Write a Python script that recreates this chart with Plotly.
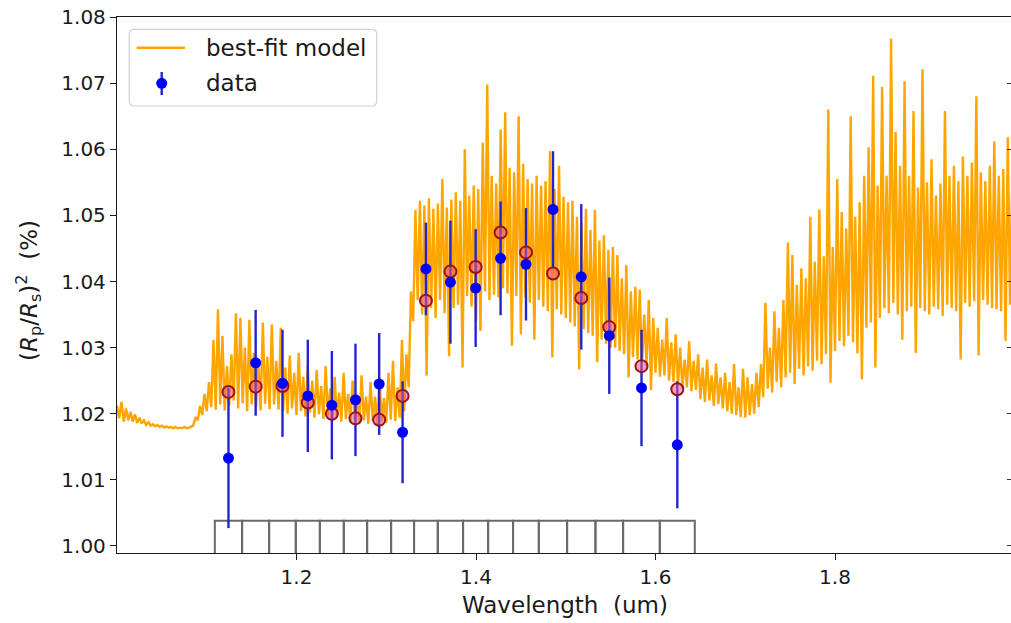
import numpy as np
import plotly.graph_objects as go

# ---------------------------------------------------------------- binned data
bin_edges = [1.1090, 1.1394, 1.1695, 1.1992, 1.2260, 1.2527, 1.2787, 1.3054,
             1.3310, 1.3574, 1.3856, 1.4135, 1.4413, 1.4700, 1.5015, 1.5331,
             1.5639, 1.6048, 1.6438]
bin_centers = [1.1242, 1.1545, 1.1844, 1.2126, 1.2394, 1.2657, 1.2921, 1.3182,
               1.3442, 1.3715, 1.3996, 1.4274, 1.4557, 1.4858, 1.5173, 1.5485,
               1.5844, 1.6243]
data_depth = [1.0133, 1.0277, 1.0246, 1.0227, 1.0213, 1.0221, 1.0245, 1.0172,
              1.0419, 1.0399, 1.0390, 1.0435, 1.0426, 1.0509, 1.0407, 1.0318,
              1.0239, 1.0153]
data_err = [0.0106, 0.0080, 0.0081, 0.0085, 0.0082, 0.0085, 0.0077, 0.0077,
            0.0070, 0.0093, 0.0089, 0.0086, 0.0085, 0.0088, 0.0110, 0.0088,
            0.0088, 0.0096]
model_binned = [1.0233, 1.0241, 1.0242, 1.0217, 1.0200, 1.0193, 1.0191, 1.0227,
                1.0371, 1.0415, 1.0422, 1.0474, 1.0444, 1.0412, 1.0375, 1.0331,
                1.0272, 1.0237]
bin_box_bottom = 0.9980
bin_box_top = 1.0038

# ------------------------------------------- best-fit model, 2.5 nm sampling
model_start = 1.0
model_step = 0.0025
model_depth = [
    # 1.000 - 1.0825 um
    1.0212, 1.0193, 1.0218, 1.0188, 1.0208, 1.0190, 1.0203, 1.0188, 1.0199, 1.0186,
    1.0194, 1.0185, 1.0190, 1.0183, 1.0187, 1.0182, 1.0184, 1.0181, 1.0183, 1.0180,
    1.0182, 1.0179, 1.0181, 1.0179, 1.0180, 1.0178, 1.0180, 1.0178, 1.0179, 1.0178,
    1.0180, 1.0178, 1.0179, 1.0180,
    # 1.085 - 1.3275 um
    1.0182, 1.0195, 1.0190, 1.0212, 1.0198, 1.0230, 1.0204, 1.0248, 1.0210, 1.0312,
    1.0206, 1.0358, 1.0214, 1.0318, 1.0205, 1.0272, 1.0212, 1.0290, 1.0220, 1.0352,
    1.0208, 1.0345, 1.0216, 1.0300, 1.0204, 1.0342, 1.0214, 1.0292, 1.0210, 1.0276,
    1.0205, 1.0338, 1.0215, 1.0286, 1.0207, 1.0335, 1.0214, 1.0280, 1.0206, 1.0330,
    1.0204, 1.0270, 1.0200, 1.0288, 1.0208, 1.0262, 1.0198, 1.0292, 1.0204, 1.0256,
    1.0196, 1.0272, 1.0202, 1.0250, 1.0194, 1.0266, 1.0199, 1.0242, 1.0192, 1.0272,
    1.0196, 1.0238, 1.0189, 1.0256, 1.0194, 1.0232, 1.0188, 1.0262, 1.0192, 1.0230,
    1.0187, 1.0250, 1.0191, 1.0228, 1.0185, 1.0258, 1.0190, 1.0226, 1.0185, 1.0248,
    1.0189, 1.0226, 1.0184, 1.0255, 1.0188, 1.0224, 1.0186, 1.0262, 1.0191, 1.0280,
    1.0189, 1.0240, 1.0194, 1.0312, 1.0204, 1.0290, 1.0240, 1.0385,
    # 1.330 - 1.5975 um
    1.0340, 1.0508, 1.0372, 1.0522, 1.0350, 1.0515, 1.0258, 1.0526, 1.0360, 1.0510,
    1.0345, 1.0518, 1.0372, 1.0555, 1.0352, 1.0512, 1.0287, 1.0524, 1.0360, 1.0535,
    1.0365, 1.0522, 1.0270, 1.0600, 1.0378, 1.0530, 1.0362, 1.0545, 1.0340, 1.0540,
    1.0325, 1.0610, 1.0385, 1.0698, 1.0372, 1.0560, 1.0380, 1.0548, 1.0376, 1.0630,
    1.0390, 1.0656, 1.0382, 1.0572, 1.0303, 1.0565, 1.0378, 1.0650, 1.0320, 1.0578,
    1.0376, 1.0555, 1.0368, 1.0548, 1.0312, 1.0560, 1.0372, 1.0545, 1.0362, 1.0552,
    1.0355, 1.0597, 1.0285, 1.0540, 1.0358, 1.0575, 1.0350, 1.0528, 1.0345, 1.0520,
    1.0338, 1.0522, 1.0332, 1.0498, 1.0267, 1.0490, 1.0328, 1.0510, 1.0322, 1.0478,
    1.0318, 1.0508, 1.0278, 1.0462, 1.0312, 1.0470, 1.0306, 1.0448, 1.0300, 1.0452,
    1.0300, 1.0440, 1.0295, 1.0405, 1.0290, 1.0425, 1.0255, 1.0385, 1.0286, 1.0392,
    1.0282, 1.0388, 1.0276, 1.0350, 1.0272, 1.0372, 1.0236, 1.0345,
    # 1.600 - 1.7275 um
    1.0262, 1.0330, 1.0256, 1.0312, 1.0258, 1.0345, 1.0250, 1.0308, 1.0248, 1.0320,
    1.0242, 1.0300, 1.0238, 1.0282, 1.0240, 1.0310, 1.0234, 1.0280, 1.0236, 1.0290,
    1.0222, 1.0270, 1.0218, 1.0282, 1.0220, 1.0258, 1.0212, 1.0276, 1.0215, 1.0255,
    1.0208, 1.0262, 1.0204, 1.0248, 1.0200, 1.0275, 1.0198, 1.0240, 1.0195, 1.0268,
    1.0194, 1.0255, 1.0198, 1.0245, 1.0200, 1.0262, 1.0210, 1.0275, 1.0225, 1.0368,
    1.0238, 1.0300,
    # 1.730 - 1.9975 um
    1.0232, 1.0355, 1.0248, 1.0330, 1.0240, 1.0372, 1.0255, 1.0459, 1.0262, 1.0440,
    1.0245, 1.0395, 1.0268, 1.0420, 1.0258, 1.0405, 1.0272, 1.0498, 1.0265, 1.0430,
    1.0280, 1.0509, 1.0275, 1.0438, 1.0290, 1.0660, 1.0247, 1.0452, 1.0295, 1.0555,
    1.0310, 1.0505, 1.0302, 1.0480, 1.0318, 1.0650, 1.0308, 1.0498, 1.0291, 1.0520,
    1.0252, 1.0560, 1.0330, 1.0603, 1.0338, 1.0711, 1.0270, 1.0545, 1.0345, 1.0694,
    1.0360, 1.0560, 1.0352, 1.0767, 1.0368, 1.0626, 1.0350, 1.0575, 1.0312, 1.0703,
    1.0355, 1.0560, 1.0362, 1.0658, 1.0292, 1.0542, 1.0360, 1.0721, 1.0355, 1.0550,
    1.0350, 1.0585, 1.0362, 1.0530, 1.0358, 1.0548, 1.0348, 1.0658, 1.0365, 1.0560,
    1.0360, 1.0575, 1.0355, 1.0552, 1.0282, 1.0589, 1.0368, 1.0560, 1.0362, 1.0580,
    1.0370, 1.0680, 1.0288, 1.0565, 1.0372, 1.0552, 1.0365, 1.0575, 1.0360, 1.0612,
    1.0358, 1.0560, 1.0355, 1.0570, 1.0310, 1.0618, 1.0365, 1.0548,
]
model_wl = model_start + model_step * np.arange(len(model_depth))

x_ticks = [1.2, 1.4, 1.6, 1.8]
y_ticks = [1.00, 1.01, 1.02, 1.03, 1.04, 1.05, 1.06, 1.07, 1.08]

# ---------------------------------------------------------------- geometry
W, H = 1011, 623
M_L, M_R, M_T, M_B = 117, 0, 17, 70
PLOT_W = W - M_L - M_R
PLOT_H = H - M_T - M_B
X_RANGE = [1.0, 1.9961]
Y_RANGE = [0.99894, 1.08]

FONT = "DejaVu Sans"
TICK_SIZE = 20
LABEL_SIZE = 23


def px(x):
    """Horizontal pixel position -> paper coordinate."""
    return (x - M_L) / PLOT_W


def py(y):
    """Vertical pixel position (from top) -> paper coordinate."""
    return (H - M_B - y) / PLOT_H


fig = go.Figure()

# best-fit model spectrum
fig.add_trace(go.Scatter(
    x=model_wl, y=model_depth, mode="lines",
    line=dict(color="#ffa500", width=2.4),
    hoverinfo="skip", showlegend=False,
))

# spectral bin outlines along the bottom
box_x, box_y = [], []
for lo, hi in zip(bin_edges[:-1], bin_edges[1:]):
    box_x += [lo, lo, hi, hi, None]
    box_y += [bin_box_bottom, bin_box_top, bin_box_top, bin_box_bottom, None]
fig.add_trace(go.Scatter(
    x=box_x, y=box_y, mode="lines",
    line=dict(color="#6a6a6a", width=2),
    hoverinfo="skip", showlegend=False,
))

# error bars of the measured depths
fig.add_trace(go.Scatter(
    x=bin_centers, y=data_depth, mode="markers",
    marker=dict(size=1, color="rgba(0,0,0,0)"),
    error_y=dict(type="data", array=data_err, visible=True,
                 color="#2323d2", thickness=2.4, width=0),
    hoverinfo="skip", showlegend=False,
))

# model averaged over each bin
fig.add_trace(go.Scatter(
    x=bin_centers, y=model_binned, mode="markers",
    marker=dict(size=12, color="rgba(232,88,150,0.55)",
                line=dict(color="#9b1414", width=2)),
    showlegend=False,
))

# measured depths
fig.add_trace(go.Scatter(
    x=bin_centers, y=data_depth, mode="markers",
    marker=dict(size=11, color="#0000ff"),
    showlegend=False,
))

# right-hand inner tick marks
fig.add_trace(go.Scatter(x=[], y=[], yaxis="y2", showlegend=False))

# ---------------------------------------------------------------- legend box
lx0, lx1, ly0, ly1, rad = 129.3, 376.7, 29.3, 106.0, 5.0
rx, ry = rad / PLOT_W, rad / PLOT_H
X0, X1, Y0, Y1 = px(lx0), px(lx1), py(ly1), py(ly0)
legend_path = (
    f"M {X0+rx},{Y0} L {X1-rx},{Y0} Q {X1},{Y0} {X1},{Y0+ry} "
    f"L {X1},{Y1-ry} Q {X1},{Y1} {X1-rx},{Y1} "
    f"L {X0+rx},{Y1} Q {X0},{Y1} {X0},{Y1-ry} "
    f"L {X0},{Y0+ry} Q {X0},{Y0} {X0+rx},{Y0} Z"
)
shapes = [
    dict(type="path", path=legend_path, xref="paper", yref="paper",
         line=dict(color="#d0d0d0", width=1.2), fillcolor="rgba(255,255,255,0.85)",
         layer="above"),
    dict(type="line", xref="paper", yref="paper",
         x0=px(136.7), x1=px(185.0), y0=py(47.7), y1=py(47.7),
         line=dict(color="#ffa500", width=2.5), layer="above"),
    dict(type="line", xref="paper", yref="paper",
         x0=px(161.7), x1=px(161.7), y0=py(72.0), y1=py(95.0),
         line=dict(color="#2323d2", width=2.4), layer="above"),
    dict(type="circle", xref="paper", yref="paper",
         x0=px(156.2), x1=px(167.2), y0=py(88.8), y1=py(77.8),
         line=dict(color="#0000ff", width=0), fillcolor="#0000ff", layer="above"),
]

annotations = [
    dict(text="best-fit model", xref="paper", yref="paper", x=px(204), y=py(47.7),
         xanchor="left", yanchor="middle", showarrow=False,
         font=dict(family=FONT, size=LABEL_SIZE, color="#1a1a1a")),
    dict(text="data", xref="paper", yref="paper", x=px(204), y=py(83.3),
         xanchor="left", yanchor="middle", showarrow=False,
         font=dict(family=FONT, size=LABEL_SIZE, color="#1a1a1a")),
    dict(text="Wavelength\u00a0\u00a0(um)", xref="paper", yref="paper",
         x=px(565), y=py(605), xanchor="center", yanchor="middle", showarrow=False,
         font=dict(family=FONT, size=LABEL_SIZE, color="#1a1a1a")),
    dict(text="(<i>R</i><sub>p</sub>/<i>R</i><sub>s</sub>)<sup>2</sup>\u00a0\u00a0(%)",
         xref="paper", yref="paper", x=px(28), y=py(291), textangle=-90,
         xanchor="center", yanchor="middle", showarrow=False,
         font=dict(family=FONT, size=LABEL_SIZE, color="#1a1a1a")),
]

axis_common = dict(
    showgrid=False, zeroline=False, showline=True, linecolor="#1a1a1a",
    linewidth=1.3, ticks="outside", ticklen=6, tickwidth=1.2, tickcolor="#1a1a1a",
    tickfont=dict(family=FONT, size=TICK_SIZE, color="#1a1a1a"),
)

fig.update_layout(
    width=W, height=H,
    margin=dict(l=M_L, r=M_R, t=M_T, b=M_B, pad=0),
    paper_bgcolor="white", plot_bgcolor="white",
    showlegend=False,
    xaxis=dict(range=X_RANGE, tickvals=x_ticks, ticktext=[f"{v:.1f}" for v in x_ticks],
               mirror=True, **axis_common),
    yaxis=dict(range=Y_RANGE, tickvals=y_ticks, ticktext=[f"{v:.2f}" for v in y_ticks],
               **axis_common),
    yaxis2=dict(range=Y_RANGE, overlaying="y", side="right", anchor="x",
                tickvals=y_ticks, showticklabels=False, ticks="inside",
                ticklen=4, tickwidth=1.2, tickcolor="#333333",
                showline=False, showgrid=False, zeroline=False),
    shapes=shapes,
    annotations=annotations,
)

fig.write_html("out.html")
